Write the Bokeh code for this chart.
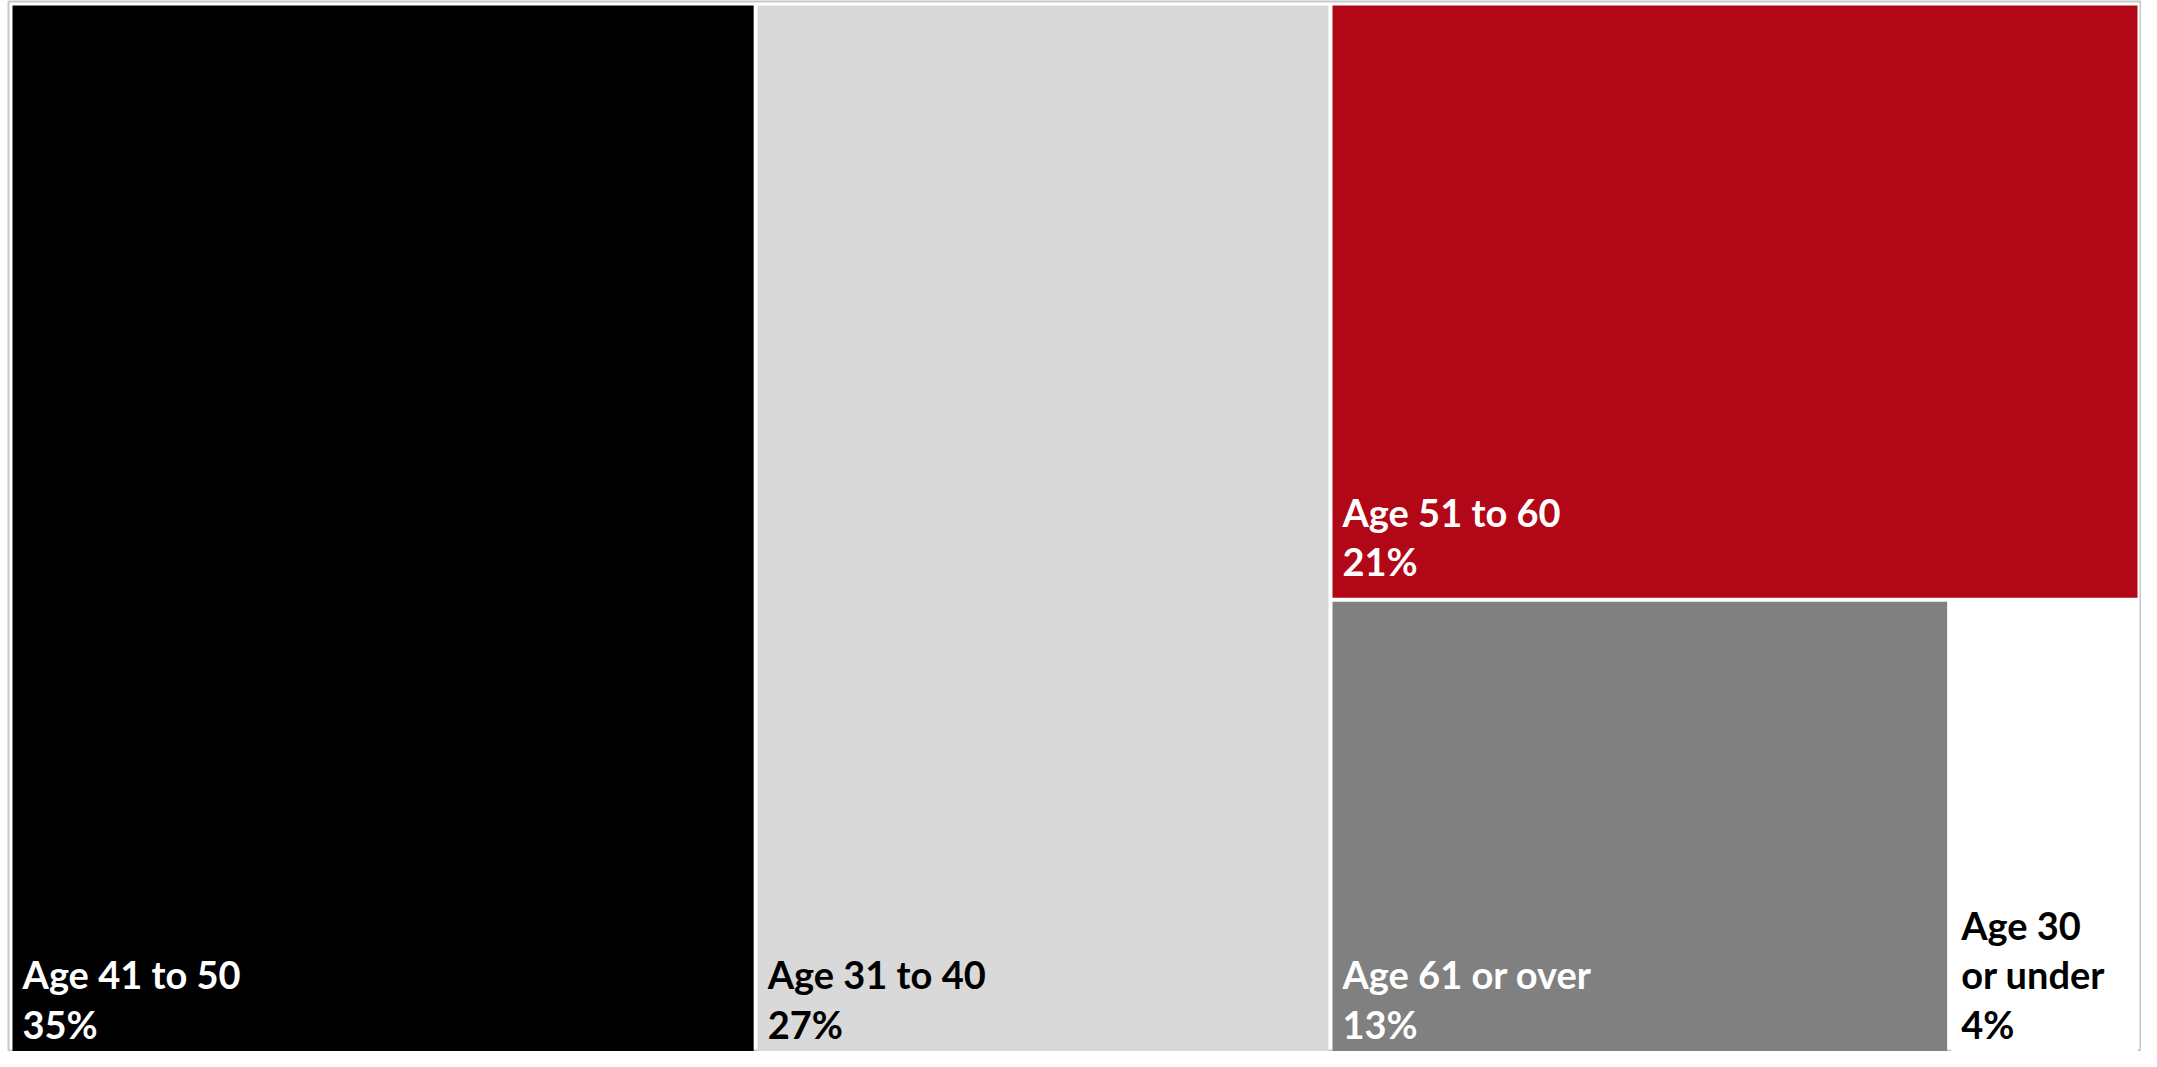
from bokeh.plotting import figure
from bokeh.models import ColumnDataSource, Range1d
from bokeh.embed import file_html
from bokeh.resources import INLINE
from bokeh.core.properties import value

# ---- data ----
categories = ["Age 41 to 50", "Age 31 to 40", "Age 51 to 60", "Age 61 or over", "Age 30 or under"]
label_names = ["Age 41 to 50", "Age 31 to 40", "Age 51 to 60", "Age 61 or over", "Age 30\nor under"]
shares = [35, 27, 21, 13, 4]
fill_colors = ["#000000", "#D9D9D9", "#B20716", "#808080", "#FFFFFF"]
text_colors = ["#FFFFFF", "#000000", "#FFFFFF", "#FFFFFF", "#000000"]

# ---- figure geometry ----
FIG_W, FIG_H = 2141, 1051
MB_LEFT, MB_TOP = 8, 1
FRAME_W, FRAME_H = FIG_W - MB_LEFT, FIG_H - MB_TOP
LAYOUT_W, LAYOUT_H = 2129.0, 1079.0   # treemap area (1 unit = 1 px); bottom runs past the frame
GAP = 2.0                              # half of the white gap between tiles
PAD_X, PAD_Y = 10.0, 21.0              # label inset from tile's bottom-left
PAD_VIS = 12.0                         # keep labels inside the visible frame
FONT_PX = 38
LINE_PX = 49.0                         # distance between label baselines
LINE_H = LINE_PX / (FONT_PX * 1.2)
VIS_BOTTOM = FRAME_H - 2


def _worst(row, side):
    s = sum(row)
    return max(max(side * side * r / (s * s), (s * s) / (side * side * r)) for r in row)


def _layout_row(row, x, y, dx, dy):
    s = sum(row)
    out = []
    if dx >= dy:
        w = s / dy
        yy = y
        for r in row:
            h = r / w
            out.append((x, yy, w, h))
            yy += h
        return out, (x + w, y, dx - w, dy)
    else:
        h = s / dx
        xx = x
        for r in row:
            w = r / h
            out.append((xx, y, w, h))
            xx += w
        return out, (x, y + h, dx, dy - h)


def squarify(vals, x, y, dx, dy):
    total = float(sum(vals))
    areas = [v / total * dx * dy for v in vals]
    rects, row = [], []
    while areas:
        side = min(dx, dy)
        a = areas[0]
        if not row or _worst(row + [a], side) <= _worst(row, side):
            row.append(a)
            areas.pop(0)
        else:
            r, (x, y, dx, dy) = _layout_row(row, x, y, dx, dy)
            rects += r
            row = []
    if row:
        r, _ = _layout_row(row, x, y, dx, dy)
        rects += r
    return rects


rects = squarify(shares, 0.0, 0.0, LAYOUT_W, LAYOUT_H)
left = [r[0] + GAP for r in rects]
right = [r[0] + r[2] - GAP for r in rects]
top = [r[1] + GAP for r in rects]
bottom = [r[1] + r[3] - GAP for r in rects]

labels = [f"{n}\n{v}%" for n, v in zip(label_names, shares)]
n_lines = [lab.count("\n") + 1 for lab in labels]
last_base = [min(b - PAD_Y, VIS_BOTTOM - PAD_VIS) for b in bottom]

src = ColumnDataSource(dict(
    left=left, right=right, top=top, bottom=bottom,
    fill=fill_colors, tcol=text_colors, label=labels, cat=categories,
    lx=[l + PAD_X for l in left],
    ly=[t - (n - 1) * LINE_PX / 2 - 16 for t, n in zip(last_base, n_lines)],
))

p = figure(width=FIG_W, height=FIG_H, output_backend="svg", toolbar_location=None,
           x_range=Range1d(-2, FRAME_W - 2), y_range=Range1d(FRAME_H - 2, -2),
           min_border=0, min_border_left=MB_LEFT, min_border_top=MB_TOP,
           background_fill_color="white", border_fill_color="white")
p.axis.visible = False
p.grid.visible = False
p.outline_line_color = "#C8C8C8"
p.outline_line_width = 2

p.quad(left="left", right="right", top="top", bottom="bottom", fill_color="fill",
       line_color=None, source=src)
p.text(x="lx", y="ly", text="label", text_color="tcol", source=src,
       text_font=value("Lato"), text_font_style="bold", text_font_size=f"{FONT_PX}px",
       text_line_height=LINE_H, text_align="left", text_baseline="alphabetic")

open("out.html", "w").write(file_html(p, INLINE))
